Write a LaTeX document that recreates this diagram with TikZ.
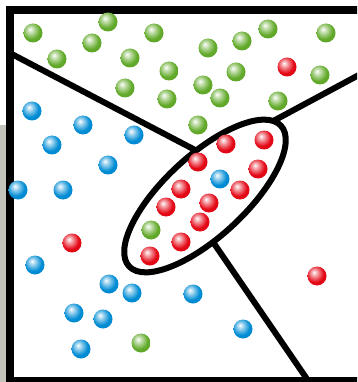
\documentclass[tikz,border=0pt]{standalone}
\definecolor{bred}{RGB}{228,8,22}
\definecolor{bgreen}{RGB}{98,170,42}
\definecolor{bblue}{RGB}{0,140,212}
\definecolor{stripgray}{RGB}{196,196,186}
\pgfdeclareradialshading{ballred}{\pgfpoint{-8bp}{10bp}}{color(0bp)=(white); color(4bp)=(white!80!bred); color(12bp)=(white!45!bred); color(23bp)=(bred); color(50bp)=(bred!92!black); color(72bp)=(bred!75!black)}
\pgfdeclareradialshading{ballgreen}{\pgfpoint{-8bp}{10bp}}{color(0bp)=(white); color(4bp)=(white!80!bgreen); color(12bp)=(white!45!bgreen); color(23bp)=(bgreen); color(50bp)=(bgreen!92!black); color(72bp)=(bgreen!75!black)}
\pgfdeclareradialshading{ballblue}{\pgfpoint{-8bp}{10bp}}{color(0bp)=(white); color(4bp)=(white!80!bblue); color(12bp)=(white!45!bblue); color(23bp)=(bblue); color(50bp)=(bblue!92!black); color(72bp)=(bblue!75!black)}
\tikzset{
  frameline/.style={line width=7.5pt, line join=miter, draw=black},
  border/.style={line width=6pt, draw=black},
  rball/.style={shading=ballred},
  gball/.style={shading=ballgreen},
  bball/.style={shading=ballblue},
}
\begin{document}
\begin{tikzpicture}[x=1pt,y=-1pt]
\useasboundingbox (0,0) rectangle (357,382);
\clip (0,0) rectangle (357,382);
% background strip at the left
\fill[stripgray] (0,125) rectangle (8,382);
\fill[white] (8,0) rectangle (357,382);
% frame
\coordinate (fa) at (365,10);
\coordinate (fb) at (9.8,10);
\coordinate (fc) at (9.8,381);
\coordinate (fd) at (365,381);
\draw[frameline] (fa) -- (fb) -- (fc) -- (fd);
% dividing lines
\coordinate (l1a) at (9.8,53);
\coordinate (l1b) at (215,160.4);
\coordinate (l2a) at (365,71.7);
\coordinate (l2b) at (250,133.5);
\coordinate (l3a) at (199.3,222);
\coordinate (l3b) at (314.5,390);
\draw[border] (l1a) -- (l1b);
\draw[border] (l2a) -- (l2b);
\draw[border] (l3a) -- (l3b);
% ellipse
\coordinate (ec) at (205,196);
\filldraw[fill=white, line width=6pt, rotate around={42.8:(ec)}] (ec) ellipse [x radius=103.5, y radius=40.5];
% balls
\foreach \p in {(33,33),(108,22),(92,43),(154,33),(57,59),(130,58),(169,71),(125,88),(167,99),(208,48),(242,41),(268,29),(326,33),(236,72),(203,85),(220,98),(320,75),(278,101),(198,125),(151,230),(141,343)}
  \shade[gball] \p circle (9.5);
\foreach \p in {(287,67),(72,243),(317,276),(226,144),(264,140),(198,162),(258,169),(181,189),(240,190),(166,207),(209,203),(200,222),(181,242),(150,256)}
  \shade[rball] \p circle (9.5);
\foreach \p in {(32,111),(83,125),(52,145),(134,135),(108,165),(18,190),(63,190),(35,265),(109,284),(132,293),(74,313),(103,319),(81,349),(193,294),(243,329),(220,179)}
  \shade[bball] \p circle (9.5);
\end{tikzpicture}
\end{document}
